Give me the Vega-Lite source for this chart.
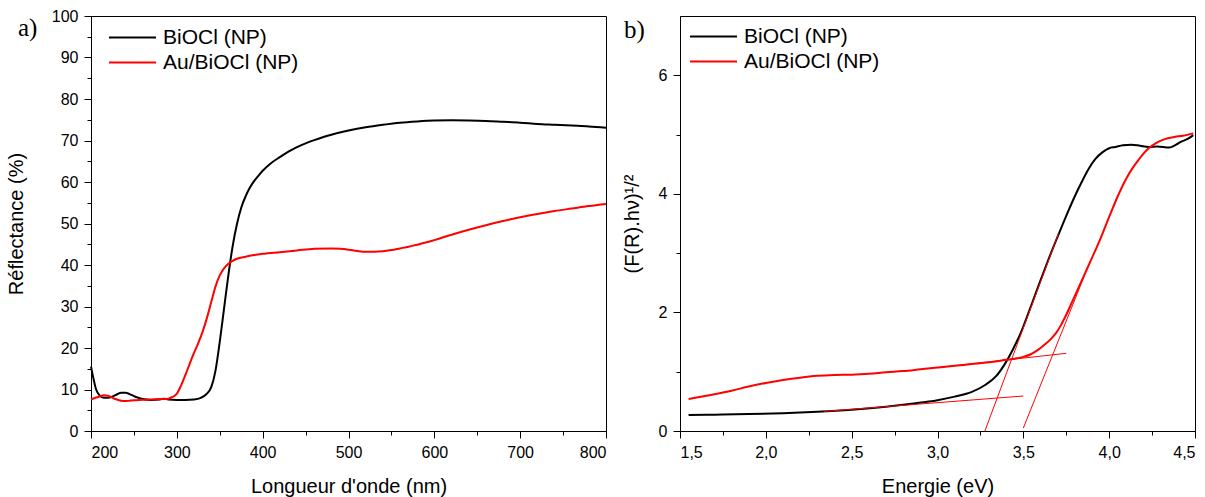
{
  "$schema": "https://vega.github.io/schema/vega-lite/v6.json",
  "background": "white",
  "padding": {"left": 5, "top": 7, "right": 0, "bottom": 3},
  "spacing": 10,
  "config": {
    "font": "Liberation Sans",
    "view": {"stroke": "black", "strokeWidth": 1},
    "axis": {
      "domainColor": "black", "tickColor": "black", "labelColor": "black", "titleColor": "black",
      "labelFont": "Liberation Sans", "titleFont": "Liberation Sans",
      "labelFontSize": 16, "titleFontSize": 20, "titleFontWeight": "normal",
      "grid": false, "tickSize": 7, "labelPadding": 6, "domainWidth": 1, "tickWidth": 1
    },
    "legend": {
      "orient": "none", "symbolType": "stroke", "symbolSize": 2209, "symbolStrokeWidth": 2,
      "labelFont": "Liberation Sans", "labelFontSize": 21, "labelColor": "black", "labelOffset": 6,
      "title": null, "padding": 0, "rowPadding": 0, "clipHeight": 25
    },
    "title": {"font": "Liberation Serif", "fontSize": 25, "fontWeight": "normal", "color": "black", "anchor": "start", "frame": "group", "offset": 0}
  },
  "resolve": {"scale": {"color": "independent"}, "legend": {"color": "independent"}},
  "datasets": {
    "refl": [
      {"wl": 200, "R": 15.5, "s": "BiOCl (NP)"}, {"wl": 203, "R": 12.5, "s": "BiOCl (NP)"}, {"wl": 206, "R": 10, "s": "BiOCl (NP)"},
      {"wl": 210, "R": 8.6, "s": "BiOCl (NP)"}, {"wl": 215, "R": 8.0, "s": "BiOCl (NP)"}, {"wl": 220, "R": 8.0, "s": "BiOCl (NP)"},
      {"wl": 225, "R": 8.3, "s": "BiOCl (NP)"}, {"wl": 230, "R": 8.8, "s": "BiOCl (NP)"}, {"wl": 235, "R": 9.2, "s": "BiOCl (NP)"},
      {"wl": 240, "R": 9.2, "s": "BiOCl (NP)"}, {"wl": 245, "R": 8.9, "s": "BiOCl (NP)"}, {"wl": 250, "R": 8.4, "s": "BiOCl (NP)"},
      {"wl": 255, "R": 8.0, "s": "BiOCl (NP)"}, {"wl": 260, "R": 7.7, "s": "BiOCl (NP)"}, {"wl": 270, "R": 7.5, "s": "BiOCl (NP)"},
      {"wl": 280, "R": 7.6, "s": "BiOCl (NP)"}, {"wl": 285, "R": 7.8, "s": "BiOCl (NP)"}, {"wl": 290, "R": 7.6, "s": "BiOCl (NP)"},
      {"wl": 300, "R": 7.5, "s": "BiOCl (NP)"}, {"wl": 310, "R": 7.5, "s": "BiOCl (NP)"}, {"wl": 320, "R": 7.6, "s": "BiOCl (NP)"},
      {"wl": 328, "R": 8.0, "s": "BiOCl (NP)"}, {"wl": 334, "R": 8.8, "s": "BiOCl (NP)"}, {"wl": 340, "R": 10.5, "s": "BiOCl (NP)"},
      {"wl": 345, "R": 14.5, "s": "BiOCl (NP)"}, {"wl": 350, "R": 21.5, "s": "BiOCl (NP)"}, {"wl": 355, "R": 29.5, "s": "BiOCl (NP)"},
      {"wl": 360, "R": 37.5, "s": "BiOCl (NP)"}, {"wl": 365, "R": 44.5, "s": "BiOCl (NP)"}, {"wl": 370, "R": 49.8, "s": "BiOCl (NP)"},
      {"wl": 375, "R": 53.8, "s": "BiOCl (NP)"}, {"wl": 380, "R": 56.5, "s": "BiOCl (NP)"}, {"wl": 385, "R": 58.6, "s": "BiOCl (NP)"},
      {"wl": 390, "R": 60.2, "s": "BiOCl (NP)"}, {"wl": 395, "R": 61.5, "s": "BiOCl (NP)"}, {"wl": 400, "R": 62.7, "s": "BiOCl (NP)"},
      {"wl": 410, "R": 64.6, "s": "BiOCl (NP)"}, {"wl": 420, "R": 66, "s": "BiOCl (NP)"}, {"wl": 430, "R": 67.3, "s": "BiOCl (NP)"},
      {"wl": 440, "R": 68.4, "s": "BiOCl (NP)"}, {"wl": 450, "R": 69.3, "s": "BiOCl (NP)"}, {"wl": 460, "R": 70.1, "s": "BiOCl (NP)"},
      {"wl": 470, "R": 70.8, "s": "BiOCl (NP)"}, {"wl": 480, "R": 71.4, "s": "BiOCl (NP)"}, {"wl": 500, "R": 72.4, "s": "BiOCl (NP)"},
      {"wl": 520, "R": 73.2, "s": "BiOCl (NP)"}, {"wl": 540, "R": 73.8, "s": "BiOCl (NP)"}, {"wl": 560, "R": 74.3, "s": "BiOCl (NP)"},
      {"wl": 580, "R": 74.6, "s": "BiOCl (NP)"}, {"wl": 600, "R": 74.8, "s": "BiOCl (NP)"}, {"wl": 620, "R": 74.85, "s": "BiOCl (NP)"},
      {"wl": 640, "R": 74.8, "s": "BiOCl (NP)"}, {"wl": 660, "R": 74.7, "s": "BiOCl (NP)"}, {"wl": 680, "R": 74.5, "s": "BiOCl (NP)"},
      {"wl": 700, "R": 74.3, "s": "BiOCl (NP)"}, {"wl": 720, "R": 74.0, "s": "BiOCl (NP)"}, {"wl": 740, "R": 73.8, "s": "BiOCl (NP)"},
      {"wl": 760, "R": 73.6, "s": "BiOCl (NP)"}, {"wl": 780, "R": 73.4, "s": "BiOCl (NP)"}, {"wl": 800, "R": 73.1, "s": "BiOCl (NP)"},

      {"wl": 200, "R": 7.6, "s": "Au/BiOCl (NP)"}, {"wl": 205, "R": 8.0, "s": "Au/BiOCl (NP)"}, {"wl": 210, "R": 8.3, "s": "Au/BiOCl (NP)"},
      {"wl": 215, "R": 8.6, "s": "Au/BiOCl (NP)"}, {"wl": 220, "R": 8.5, "s": "Au/BiOCl (NP)"}, {"wl": 225, "R": 8.0, "s": "Au/BiOCl (NP)"},
      {"wl": 230, "R": 7.6, "s": "Au/BiOCl (NP)"}, {"wl": 235, "R": 7.3, "s": "Au/BiOCl (NP)"}, {"wl": 240, "R": 7.2, "s": "Au/BiOCl (NP)"},
      {"wl": 245, "R": 7.3, "s": "Au/BiOCl (NP)"}, {"wl": 250, "R": 7.4, "s": "Au/BiOCl (NP)"}, {"wl": 260, "R": 7.5, "s": "Au/BiOCl (NP)"},
      {"wl": 270, "R": 7.6, "s": "Au/BiOCl (NP)"}, {"wl": 280, "R": 7.7, "s": "Au/BiOCl (NP)"}, {"wl": 290, "R": 7.8, "s": "Au/BiOCl (NP)"},
      {"wl": 295, "R": 8.2, "s": "Au/BiOCl (NP)"}, {"wl": 300, "R": 9.0, "s": "Au/BiOCl (NP)"}, {"wl": 305, "R": 11, "s": "Au/BiOCl (NP)"},
      {"wl": 310, "R": 13.5, "s": "Au/BiOCl (NP)"}, {"wl": 315, "R": 16.2, "s": "Au/BiOCl (NP)"}, {"wl": 320, "R": 18.8, "s": "Au/BiOCl (NP)"},
      {"wl": 325, "R": 21.2, "s": "Au/BiOCl (NP)"}, {"wl": 330, "R": 23.9, "s": "Au/BiOCl (NP)"}, {"wl": 335, "R": 27.2, "s": "Au/BiOCl (NP)"},
      {"wl": 340, "R": 31, "s": "Au/BiOCl (NP)"}, {"wl": 345, "R": 34.8, "s": "Au/BiOCl (NP)"}, {"wl": 350, "R": 37.5, "s": "Au/BiOCl (NP)"},
      {"wl": 355, "R": 39.2, "s": "Au/BiOCl (NP)"}, {"wl": 360, "R": 40.3, "s": "Au/BiOCl (NP)"}, {"wl": 365, "R": 41, "s": "Au/BiOCl (NP)"},
      {"wl": 370, "R": 41.5, "s": "Au/BiOCl (NP)"}, {"wl": 380, "R": 42, "s": "Au/BiOCl (NP)"}, {"wl": 390, "R": 42.4, "s": "Au/BiOCl (NP)"},
      {"wl": 400, "R": 42.7, "s": "Au/BiOCl (NP)"}, {"wl": 420, "R": 43.1, "s": "Au/BiOCl (NP)"}, {"wl": 440, "R": 43.5, "s": "Au/BiOCl (NP)"},
      {"wl": 460, "R": 43.9, "s": "Au/BiOCl (NP)"}, {"wl": 480, "R": 44.0, "s": "Au/BiOCl (NP)"}, {"wl": 490, "R": 43.9, "s": "Au/BiOCl (NP)"},
      {"wl": 500, "R": 43.7, "s": "Au/BiOCl (NP)"}, {"wl": 510, "R": 43.4, "s": "Au/BiOCl (NP)"}, {"wl": 520, "R": 43.2, "s": "Au/BiOCl (NP)"},
      {"wl": 530, "R": 43.2, "s": "Au/BiOCl (NP)"}, {"wl": 540, "R": 43.3, "s": "Au/BiOCl (NP)"}, {"wl": 550, "R": 43.6, "s": "Au/BiOCl (NP)"},
      {"wl": 560, "R": 44.0, "s": "Au/BiOCl (NP)"}, {"wl": 570, "R": 44.4, "s": "Au/BiOCl (NP)"}, {"wl": 580, "R": 44.9, "s": "Au/BiOCl (NP)"},
      {"wl": 590, "R": 45.4, "s": "Au/BiOCl (NP)"}, {"wl": 600, "R": 46.0, "s": "Au/BiOCl (NP)"}, {"wl": 620, "R": 47.3, "s": "Au/BiOCl (NP)"},
      {"wl": 640, "R": 48.5, "s": "Au/BiOCl (NP)"}, {"wl": 660, "R": 49.6, "s": "Au/BiOCl (NP)"}, {"wl": 680, "R": 50.6, "s": "Au/BiOCl (NP)"},
      {"wl": 700, "R": 51.5, "s": "Au/BiOCl (NP)"}, {"wl": 720, "R": 52.3, "s": "Au/BiOCl (NP)"}, {"wl": 740, "R": 53.0, "s": "Au/BiOCl (NP)"},
      {"wl": 760, "R": 53.6, "s": "Au/BiOCl (NP)"}, {"wl": 780, "R": 54.2, "s": "Au/BiOCl (NP)"}, {"wl": 800, "R": 54.7, "s": "Au/BiOCl (NP)"}
    ],
    "kub": [
      {"e": 1.55, "v": 0.27, "s": "BiOCl (NP)"}, {"e": 1.7, "v": 0.275, "s": "BiOCl (NP)"}, {"e": 1.9, "v": 0.285, "s": "BiOCl (NP)"},
      {"e": 2.1, "v": 0.30, "s": "BiOCl (NP)"}, {"e": 2.3, "v": 0.325, "s": "BiOCl (NP)"}, {"e": 2.5, "v": 0.36, "s": "BiOCl (NP)"},
      {"e": 2.7, "v": 0.41, "s": "BiOCl (NP)"}, {"e": 2.85, "v": 0.46, "s": "BiOCl (NP)"}, {"e": 3.0, "v": 0.52, "s": "BiOCl (NP)"},
      {"e": 3.1, "v": 0.58, "s": "BiOCl (NP)"}, {"e": 3.2, "v": 0.66, "s": "BiOCl (NP)"}, {"e": 3.28, "v": 0.78, "s": "BiOCl (NP)"},
      {"e": 3.34, "v": 0.92, "s": "BiOCl (NP)"}, {"e": 3.39, "v": 1.12, "s": "BiOCl (NP)"}, {"e": 3.44, "v": 1.38, "s": "BiOCl (NP)"},
      {"e": 3.49, "v": 1.69, "s": "BiOCl (NP)"}, {"e": 3.55, "v": 2.15, "s": "BiOCl (NP)"}, {"e": 3.6, "v": 2.54, "s": "BiOCl (NP)"},
      {"e": 3.65, "v": 2.92, "s": "BiOCl (NP)"}, {"e": 3.7, "v": 3.28, "s": "BiOCl (NP)"}, {"e": 3.75, "v": 3.63, "s": "BiOCl (NP)"},
      {"e": 3.8, "v": 3.96, "s": "BiOCl (NP)"}, {"e": 3.84, "v": 4.2, "s": "BiOCl (NP)"}, {"e": 3.88, "v": 4.42, "s": "BiOCl (NP)"},
      {"e": 3.92, "v": 4.59, "s": "BiOCl (NP)"}, {"e": 3.96, "v": 4.7, "s": "BiOCl (NP)"},
      {"e": 4.0, "v": 4.77, "s": "BiOCl (NP)"}, {"e": 4.035, "v": 4.79, "s": "BiOCl (NP)"}, {"e": 4.08, "v": 4.82, "s": "BiOCl (NP)"},
      {"e": 4.13, "v": 4.83, "s": "BiOCl (NP)"}, {"e": 4.18, "v": 4.81, "s": "BiOCl (NP)"}, {"e": 4.23, "v": 4.79, "s": "BiOCl (NP)"},
      {"e": 4.28, "v": 4.80, "s": "BiOCl (NP)"}, {"e": 4.35, "v": 4.78, "s": "BiOCl (NP)"}, {"e": 4.39, "v": 4.83, "s": "BiOCl (NP)"},
      {"e": 4.42, "v": 4.88, "s": "BiOCl (NP)"}, {"e": 4.46, "v": 4.93, "s": "BiOCl (NP)"}, {"e": 4.49, "v": 4.99, "s": "BiOCl (NP)"},

      {"e": 1.55, "v": 0.54, "s": "Au/BiOCl (NP)"}, {"e": 1.7, "v": 0.62, "s": "Au/BiOCl (NP)"}, {"e": 1.8, "v": 0.68, "s": "Au/BiOCl (NP)"},
      {"e": 1.9, "v": 0.75, "s": "Au/BiOCl (NP)"}, {"e": 2.0, "v": 0.81, "s": "Au/BiOCl (NP)"}, {"e": 2.1, "v": 0.86, "s": "Au/BiOCl (NP)"},
      {"e": 2.2, "v": 0.90, "s": "Au/BiOCl (NP)"}, {"e": 2.3, "v": 0.93, "s": "Au/BiOCl (NP)"}, {"e": 2.4, "v": 0.945, "s": "Au/BiOCl (NP)"},
      {"e": 2.5, "v": 0.95, "s": "Au/BiOCl (NP)"}, {"e": 2.6, "v": 0.965, "s": "Au/BiOCl (NP)"}, {"e": 2.7, "v": 0.99, "s": "Au/BiOCl (NP)"},
      {"e": 2.8, "v": 1.01, "s": "Au/BiOCl (NP)"}, {"e": 2.9, "v": 1.04, "s": "Au/BiOCl (NP)"}, {"e": 3.0, "v": 1.07, "s": "Au/BiOCl (NP)"},
      {"e": 3.1, "v": 1.10, "s": "Au/BiOCl (NP)"}, {"e": 3.2, "v": 1.13, "s": "Au/BiOCl (NP)"}, {"e": 3.3, "v": 1.16, "s": "Au/BiOCl (NP)"},
      {"e": 3.4, "v": 1.20, "s": "Au/BiOCl (NP)"}, {"e": 3.45, "v": 1.22, "s": "Au/BiOCl (NP)"}, {"e": 3.5, "v": 1.25, "s": "Au/BiOCl (NP)"},
      {"e": 3.54, "v": 1.29, "s": "Au/BiOCl (NP)"}, {"e": 3.57, "v": 1.34, "s": "Au/BiOCl (NP)"}, {"e": 3.6, "v": 1.40, "s": "Au/BiOCl (NP)"},
      {"e": 3.63, "v": 1.47, "s": "Au/BiOCl (NP)"}, {"e": 3.66, "v": 1.55, "s": "Au/BiOCl (NP)"}, {"e": 3.69, "v": 1.65, "s": "Au/BiOCl (NP)"},
      {"e": 3.72, "v": 1.79, "s": "Au/BiOCl (NP)"}, {"e": 3.75, "v": 1.96, "s": "Au/BiOCl (NP)"}, {"e": 3.8, "v": 2.28, "s": "Au/BiOCl (NP)"},
      {"e": 3.85, "v": 2.60, "s": "Au/BiOCl (NP)"}, {"e": 3.9, "v": 2.92, "s": "Au/BiOCl (NP)"}, {"e": 3.95, "v": 3.25, "s": "Au/BiOCl (NP)"},
      {"e": 4.0, "v": 3.61, "s": "Au/BiOCl (NP)"}, {"e": 4.05, "v": 3.96, "s": "Au/BiOCl (NP)"}, {"e": 4.1, "v": 4.26, "s": "Au/BiOCl (NP)"},
      {"e": 4.14, "v": 4.45, "s": "Au/BiOCl (NP)"}, {"e": 4.17, "v": 4.57, "s": "Au/BiOCl (NP)"}, {"e": 4.2, "v": 4.68, "s": "Au/BiOCl (NP)"},
      {"e": 4.23, "v": 4.77, "s": "Au/BiOCl (NP)"}, {"e": 4.27, "v": 4.85, "s": "Au/BiOCl (NP)"}, {"e": 4.32, "v": 4.92, "s": "Au/BiOCl (NP)"},
      {"e": 4.38, "v": 4.96, "s": "Au/BiOCl (NP)"}, {"e": 4.43, "v": 4.98, "s": "Au/BiOCl (NP)"}, {"e": 4.49, "v": 5.02, "s": "Au/BiOCl (NP)"}
    ],
    "tan": [
      {"e": 3.276, "v": 0.0, "id": "t1"}, {"e": 3.705, "v": 3.33, "id": "t1"},
      {"e": 3.50, "v": 0.05, "id": "t2"}, {"e": 3.86, "v": 2.65, "id": "t2"},
      {"e": 2.34, "v": 0.33, "id": "b1"}, {"e": 3.50, "v": 0.59, "id": "b1"},
      {"e": 3.0, "v": 1.07, "id": "b2"}, {"e": 3.75, "v": 1.31, "id": "b2"}
    ]
  },
  "hconcat": [
    {
      "width": 515, "height": 415,
      "title": {"text": "a)", "dx": -73, "dy": 37},
      "data": {"name": "refl"},
      "layer": [
        {
          "transform": [{"filter": "datum.s === 'BiOCl (NP)'"}],
          "mark": {"type": "line", "strokeWidth": 2, "interpolate": "monotone"},
          "encoding": {
            "x": {"field": "wl", "type": "quantitative", "scale": {"domain": [200, 800], "nice": false},
                  "axis": {"values": [200, 300, 400, 500, 600, 700, 800], "title": "Longueur d'onde (nm)", "titlePadding": 16, "orient": "bottom"}},
            "y": {"field": "R", "type": "quantitative", "scale": {"domain": [0, 100], "nice": false},
                  "axis": {"values": [0, 10, 20, 30, 40, 50, 60, 70, 80, 90, 100], "title": "Réflectance (%)", "titlePadding": 25, "orient": "left"}},
            "color": {"field": "s", "type": "nominal",
                      "scale": {"domain": ["BiOCl (NP)", "Au/BiOCl (NP)"], "range": ["black", "red"]},
                      "legend": {"legendX": 17, "legendY": 9}}
          }
        },
        {
          "transform": [{"filter": "datum.s === 'Au/BiOCl (NP)'"}],
          "mark": {"type": "line", "strokeWidth": 2, "interpolate": "monotone"},
          "encoding": {
            "x": {"field": "wl", "type": "quantitative",
                  "axis": {"values": [250, 350, 450, 550, 650, 750], "labels": false, "domain": false, "tickSize": 4, "title": null, "orient": "bottom"}},
            "y": {"field": "R", "type": "quantitative",
                  "axis": {"values": [5, 15, 25, 35, 45, 55, 65, 75, 85, 95], "labels": false, "domain": false, "tickSize": 4, "title": null, "orient": "left"}},
            "color": {"field": "s", "type": "nominal"}
          }
        }
      ],
      "resolve": {"axis": {"x": "independent", "y": "independent"}}
    },
    {
      "width": 515, "height": 415,
      "title": {"text": "b)", "dx": -56, "dy": 31},
      "layer": [
        {
          "data": {"name": "kub"},
          "mark": {"type": "line", "strokeWidth": 2, "interpolate": "monotone"},
          "encoding": {
            "x": {"field": "e", "type": "quantitative", "scale": {"domain": [1.5, 4.5], "nice": false},
                  "axis": {"values": [1.5, 2, 2.5, 3, 3.5, 4, 4.5], "labelExpr": "replace(format(datum.value, '.1f'), '.', ',')", "title": "Energie (eV)", "titlePadding": 16, "orient": "bottom"}},
            "y": {"field": "v", "type": "quantitative", "scale": {"domain": [0, 7], "nice": false},
                  "axis": {"values": [0, 2, 4, 6], "title": "(F(R).hν)¹/²", "titlePadding": 16, "orient": "left"}},
            "color": {"field": "s", "type": "nominal",
                      "scale": {"domain": ["BiOCl (NP)", "Au/BiOCl (NP)"], "range": ["black", "red"]},
                      "legend": {"legendX": 9, "legendY": 8}}
          }
        },
        {
          "data": {"name": "tan"},
          "mark": {"type": "line", "strokeWidth": 1, "color": "red"},
          "encoding": {
            "x": {"field": "e", "type": "quantitative",
                  "axis": {"values": [1.75, 2.25, 2.75, 3.25, 3.75, 4.25], "labels": false, "domain": false, "tickSize": 4, "title": null, "orient": "bottom"}},
            "y": {"field": "v", "type": "quantitative",
                  "axis": {"values": [1, 3, 5], "labels": false, "domain": false, "tickSize": 4, "title": null, "orient": "left"}},
            "detail": {"field": "id", "type": "nominal"}
          }
        }
      ],
      "resolve": {"axis": {"x": "independent", "y": "independent"}}
    }
  ]
}
